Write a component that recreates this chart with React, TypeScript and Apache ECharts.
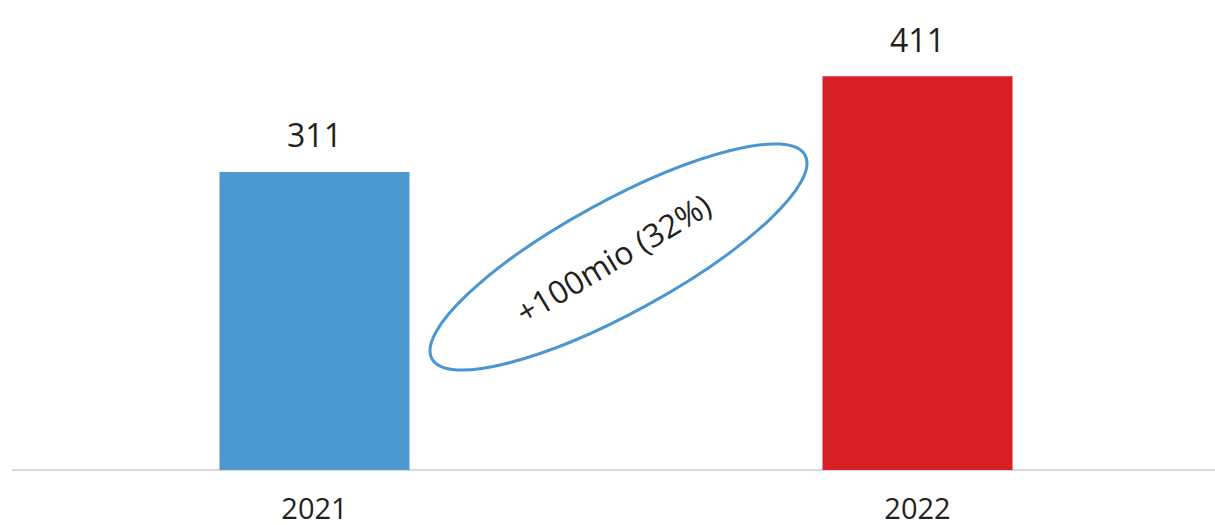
import React, { useEffect, useRef } from "react";
import * as echarts from "echarts";

const categories = ["2021", "2022"];
const values = [311, 411];
const barColors = ["#4C98D0", "#D71F26"];
const annotationText = "+100mio (32%)";

export default function App() {
  const ref = useRef<HTMLDivElement>(null);
  useEffect(() => {
    if (!ref.current) return;
    const chart = echarts.init(ref.current, undefined, { renderer: "svg" });
    const font = "'Open Sans', 'Noto Sans', sans-serif";
    chart.setOption({
      animation: false,
      backgroundColor: "#ffffff",
      grid: { left: 13, width: 1206, top: 10, bottom: 55, containLabel: false },
      xAxis: {
        type: "category",
        data: categories,
        axisLine: { show: true, lineStyle: { color: "#D9D9D9", width: 2 } },
        axisTick: { show: false },
        axisLabel: { color: "#231F20", fontSize: 29, fontFamily: font, margin: 23 },
      },
      yAxis: {
        type: "value",
        min: 0,
        max: 480,
        show: false,
        splitLine: { show: false },
      },
      series: [
        {
          type: "bar",
          barWidth: 190,
          data: values.map((v, i) => ({ value: v, itemStyle: { color: barColors[i] } })),
          label: {
            show: true,
            position: "top",
            distance: 21,
            color: "#231F20",
            fontSize: 32,
            fontFamily: font,
          },
        },
      ],
      graphic: [
        {
          type: "ellipse",
          x: 618.5,
          y: 257,
          rotation: 0.5,
          shape: { cx: 0, cy: 0, rx: 212.5, ry: 56 },
          style: { fill: "none", stroke: "#4A96D0", lineWidth: 3 },
          z: 10,
        },
        {
          type: "text",
          x: 613,
          y: 258,
          rotation: 0.54,
          style: {
            text: annotationText,
            fill: "#231F20",
            fontSize: 32,
            fontFamily: font,
            align: "center",
            verticalAlign: "middle",
          },
          z: 11,
        },
      ],
    });
    return () => chart.dispose();
  }, []);
  return (
    <div
      style={{
        position: "fixed",
        left: 0,
        top: 0,
        width: 1215,
        height: 525,
        overflow: "hidden",
        background: "#ffffff",
      }}
    >
      <div ref={ref} style={{ width: 1230, height: 525 }} />
    </div>
  );
}
